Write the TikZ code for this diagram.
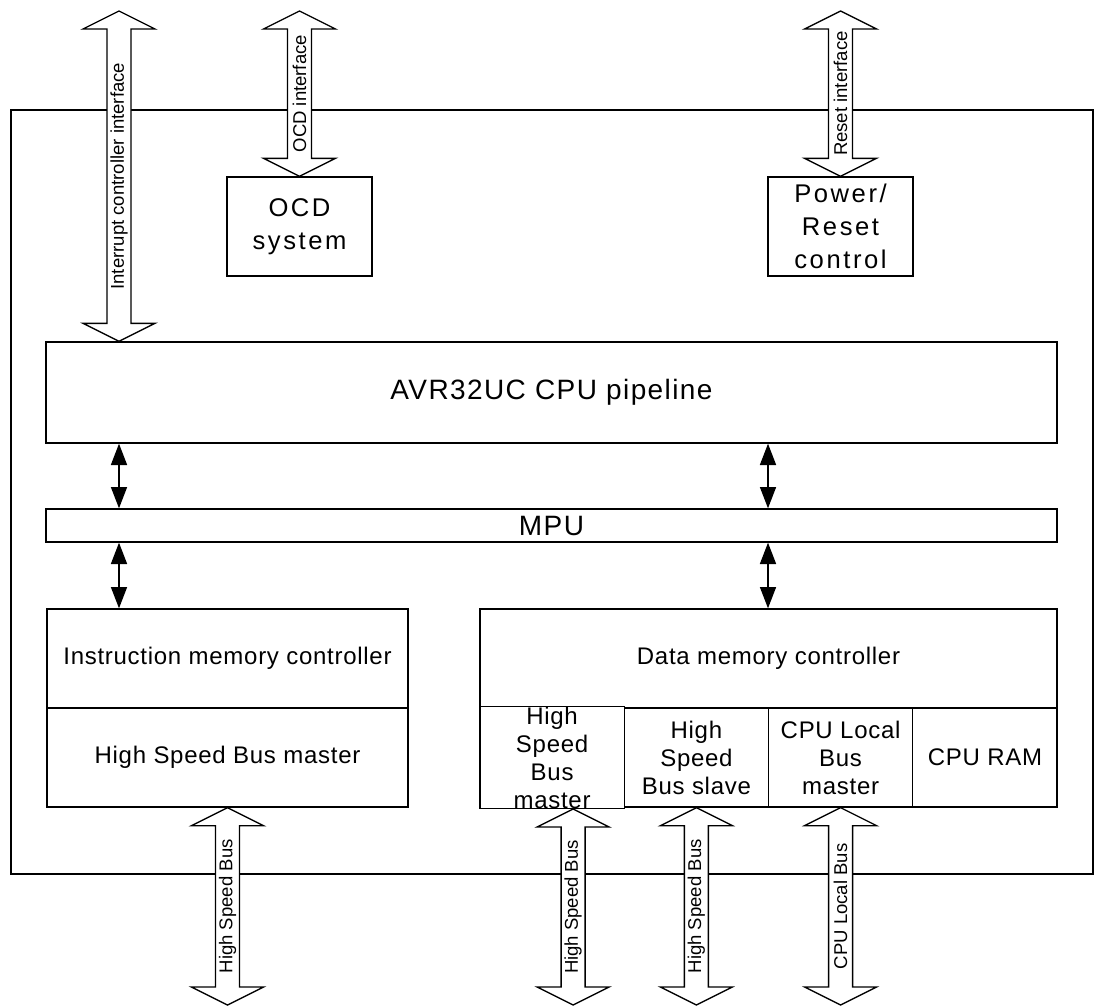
\documentclass[tikz,border=0pt]{standalone}
\usepackage{fontspec}
\setmainfont{Liberation Sans}
\newfontfamily\fmid[LetterSpace=3]{Liberation Sans}
\newfontfamily\fbig[LetterSpace=10]{Liberation Sans}
\newfontfamily\fhead[LetterSpace=5]{Liberation Sans}
\usetikzlibrary{arrows.meta,calc}
\newcommand\busarrow[3]{%
  \draw[hollowbus] (#1) -- ++(36,18) -- ++(-24,0) -- ($(#2)+(12,-18)$) -- ++(24,0) -- (#2)
    -- ++(-36,-18) -- ++(24,0) -- ($(#1)+(-12,18)$) -- ++(-24,0) -- cycle;
  \node[vlab] at ($(#1)!0.5!(#2)$) {#3};}
\begin{document}
\begin{tikzpicture}[x=0.75pt,y=-0.75pt,
  box/.style={draw, line width=1pt, inner sep=0pt, fill=white},
  midtxt/.style={font=\fmid\fontsize{18}{21}\selectfont, align=center},
  bigtxt/.style={font=\fbig\fontsize{19.2}{24.75}\selectfont, align=center},
  headtxt/.style={font=\fhead\fontsize{21}{25}\selectfont},
  vlab/.style={font=\fontsize{13.9}{16}\selectfont, rotate=90, inner sep=0pt},
  hollowbus/.style={draw, fill=white, line width=1pt, line join=miter},
  smallarrow/.style={arrows={Triangle[length=16pt,width=12pt]-Triangle[length=16pt,width=12pt]}, line width=1.2pt}
]
\useasboundingbox (0,0) rectangle (1098,1006);
\coordinate (topline) at (0,11);
\coordinate (botline) at (0,1005);
\coordinate (lx) at (119,0);
\coordinate (rx) at (768,0);
% outer frame
\node[box, minimum width=811.5pt, minimum height=573pt] (outer) at (552,492) {};
% top blocks
\node[box, bigtxt, minimum width=108.75pt, minimum height=74.25pt] (ocd) at (299.5,226.5) {OCD\\system};
\node[box, bigtxt, minimum width=108.75pt, minimum height=74.25pt] (pwr) at (840.5,226.5) {Power/\\Reset\\control};
\node[box, headtxt, minimum width=758.25pt, minimum height=75.75pt] (pipe) at (551.5,392.5) {AVR32UC CPU pipeline};
\node[box, headtxt, minimum width=758.25pt, minimum height=24.75pt] (mpu) at (551.5,525.5) {MPU};
% instruction side
\node[box, midtxt, minimum width=270.75pt, minimum height=74.25pt] (imc) at (227.5,658.5) {Instruction memory controller};
\node[box, midtxt, minimum width=270.75pt, minimum height=74.25pt] (hsbm) at (227.5,757.5) {High Speed Bus master};
% data side
\node[box, midtxt, minimum width=432.75pt, minimum height=74.25pt] (dmc) at (768.5,658.5) {Data memory controller};
\node[box, midtxt, minimum width=108.19pt, minimum height=74.25pt] (dhm) at (552.1,757.5) {High\\Speed\\Bus\\master};
\node[box, midtxt, minimum width=108.19pt, minimum height=74.25pt] (dhs) at (696.4,757.5) {High\\Speed\\Bus slave};
\node[box, midtxt, minimum width=108.19pt, minimum height=74.25pt] (dlm) at (840.6,757.5) {CPU Local\\Bus\\master};
\node[box, midtxt, minimum width=108.19pt, minimum height=74.25pt] (ram) at (984.9,757.5) {CPU RAM};
% small connectors
\draw[smallarrow] (pipe.south -| lx) -- (mpu.north -| lx);
\draw[smallarrow] (pipe.south -| rx) -- (mpu.north -| rx);
\draw[smallarrow] (mpu.south -| lx) -- (imc.north -| lx);
\draw[smallarrow] (mpu.south -| rx) -- (dmc.north -| rx);
% interface buses
\coordinate (ictop) at (lx |- topline);
\coordinate (icbot) at (lx |- pipe.north);
\busarrow{ictop}{icbot}{Interrupt controller interface}
\coordinate (ocdtop) at (ocd.north |- topline);
\busarrow{ocdtop}{ocd.north}{OCD interface}
\coordinate (rsttop) at (pwr.north |- topline);
\busarrow{rsttop}{pwr.north}{Reset interface}
\coordinate (b1bot) at (hsbm.south |- botline);
\busarrow{hsbm.south}{b1bot}{High Speed Bus}
\coordinate (b2top) at ($(dhm.south)+(21,0)$);
\coordinate (b2bot) at (b2top |- botline);
\busarrow{b2top}{b2bot}{High Speed Bus}
\coordinate (b3bot) at (dhs.south |- botline);
\busarrow{dhs.south}{b3bot}{High Speed Bus}
\coordinate (b4bot) at (dlm.south |- botline);
\busarrow{dlm.south}{b4bot}{CPU Local Bus}
\end{tikzpicture}
\end{document}
